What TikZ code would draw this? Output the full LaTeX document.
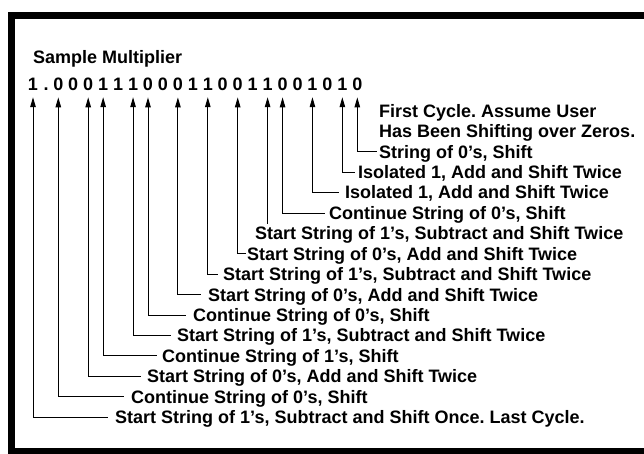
\documentclass[tikz,border=0pt]{standalone}
\usepackage{fontspec}
\setmainfont{Liberation Sans}
\usetikzlibrary{arrows.meta}
\frenchspacing

\begin{document}
\begin{tikzpicture}[x=1pt, y=-1pt,
	txt/.style={font=\fontsize{18}{20}\selectfont\bfseries, inner sep=0pt, text height=12.8pt, text depth=0pt, anchor=west},
	bit/.style={font=\fontsize{18}{20}\selectfont\bfseries, inner xsep=0pt, inner ysep=6pt, anchor=base},
	pfeil/.style={line width=1pt, {Triangle[length=10pt,width=5.5pt]}-}]

	\useasboundingbox (0,0) rectangle (644,454);

	%Rahmen
	\draw[line width=7pt] (644,15.5) -| (11.5,451) -- (644,451);

	%Multiplikator
	\node[txt] (titel) at (33,57) {Sample Multiplier};
	\node[bit] (b0) at (33,91) {1};
	\node[bit] (punkt) at (46,91) {.};
	\foreach \d [count=\i] in {0,0,0,1,1,1,0,0,0,1,1,0,0,1,1,0,0,1,0,1,0}
		\node[bit] (b\i) at ({58.3+(\i-1)*14.95},91) {\d};

	%Hinweis
	\node[txt] (hinweisA) at (379,111) {First Cycle. Assume User};
	\node[txt] (hinweisB) at (379,131.4) {Has Been Shifting over Zeros.};

	%Beschriftungen
	\foreach \b/\x/\k/\g/\lab in {
		21/379/2/2/{String of 0's, Shift},
		20/358/3/3/{Isolated 1, Add and Shift Twice},
		18/345/4/6/{Isolated 1, Add and Shift Twice},
		16/329/5/4/{Continue String of 0's, Shift},
		13/247/7/1/{Start String of 0's, Add and Shift Twice},
		11/223/8/5/{Start String of 1's, Subtract and Shift Twice},
		9/208/9/7/{Start String of 0's, Add and Shift Twice},
		7/193/10/7/{Continue String of 0's, Shift},
		6/177/11/6/{Start String of 1's, Subtract and Shift Twice},
		4/162/12/5/{Continue String of 1's, Shift},
		3/147/13/6/{Start String of 0's, Add and Shift Twice},
		1/131/14/7/{Continue String of 0's, Shift},
		0/115/15/7/{Start String of 1's, Subtract and Shift Once. Last Cycle.}}
	{
		\node[txt] (l\b) at (\x,{111+20.4*\k}) {\lab};
		\draw[pfeil, shorten >=\g pt] (b\b.south) |- (l\b.west);
	}

	\node[txt] (l15) at (255,{111+20.4*6}) {Start String of 1's, Subtract and Shift Twice};
	\draw[pfeil, shorten >=3pt] (b15.south) -- (b15.south |- l15.north);

\end{tikzpicture}
\end{document}
